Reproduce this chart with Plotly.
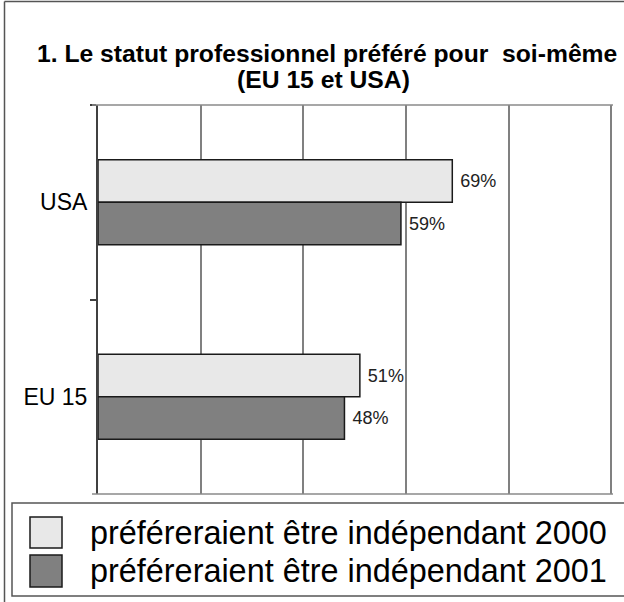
import plotly.graph_objects as go

# ---- data ----
categories = ["USA", "EU 15"]
series_names = ["préféreraient être indépendant 2000", "préféreraient être indépendant 2001"]
values_2000 = [69, 51]
values_2001 = [59, 48]
labels_2000 = ["69%", "51%"]
labels_2001 = ["59%", "48%"]

title_line1 = "1. Le statut professionnel préféré pour  soi-même"
title_line2 = "(EU 15 et USA)"

# ---- styles ----
W, H = 624, 602
L, R, T, B = 98, 11, 105, 108
FONT = "Liberation Sans, Arial, sans-serif"
fills = ["#e8e8e8", "#808080"]
outline = "#1a1a1a"

pw = W - L - R
ph = H - T - B


def px(x):
    return (x - L) / pw


def py(y):
    return 1 - (y - T) / ph


fig = go.Figure()
for name, vals, labs, fc in [
    (series_names[0], values_2000, labels_2000, fills[0]),
    (series_names[1], values_2001, labels_2001, fills[1]),
]:
    fig.add_trace(go.Bar(
        y=categories, x=vals, orientation="h", name=name,
        marker=dict(color=fc, line=dict(color=outline, width=1.5)),
        text=labs, texttemplate=" %{text}", textposition="outside", cliponaxis=False,
        textfont=dict(family=FONT, size=18, color="#222222"),
        showlegend=False,
    ))

shapes = []
# outer border (top and left visible)
shapes.append(dict(type="line", xref="paper", yref="paper",
                   x0=px(4.5), x1=px(700), y0=py(1.5), y1=py(1.5),
                   line=dict(color="#555555", width=1.5)))
shapes.append(dict(type="line", xref="paper", yref="paper",
                   x0=px(4.5), x1=px(4.5), y0=py(1.5), y1=py(700),
                   line=dict(color="#555555", width=1.5)))
# plot frame top and bottom lines
for yy in (0, 1):
    shapes.append(dict(type="line", xref="paper", yref="paper",
                       x0=px(92), x1=1, y0=yy, y1=yy,
                       line=dict(color="#8a8a8a", width=1.5)))
# legend box
shapes.append(dict(type="rect", xref="paper", yref="paper",
                   x0=px(12), x1=px(700), y0=py(503), y1=py(596),
                   line=dict(color="#555555", width=1.5), fillcolor="rgba(0,0,0,0)"))
annotations = []
rows = [(517, 548, 532.5), (555, 587, 571)]
for i, (y0, y1, yc) in enumerate(rows):
    shapes.append(dict(type="rect", xref="paper", yref="paper",
                       x0=px(30), x1=px(62), y0=py(y0), y1=py(y1),
                       line=dict(color=outline, width=1.5), fillcolor=fills[i]))
    annotations.append(dict(xref="paper", yref="paper", x=px(88), y=py(yc),
                            text=series_names[i], showarrow=False,
                            xanchor="left", yanchor="middle",
                            font=dict(family=FONT, size=32.4, color="#000000")))

# title
annotations.append(dict(xref="paper", yref="paper", x=px(327), y=py(53),
                        text="<b>" + title_line1 + "</b>", showarrow=False,
                        xanchor="center", yanchor="middle",
                        font=dict(family=FONT, size=24.7, color="#000000")))
annotations.append(dict(xref="paper", yref="paper", x=px(323), y=py(80),
                        text="<b>" + title_line2 + "</b>", showarrow=False,
                        xanchor="center", yanchor="middle",
                        font=dict(family=FONT, size=24.7, color="#000000")))

fig.update_layout(
    width=W, height=H,
    margin=dict(l=L, r=R, t=T, b=B, autoexpand=False),
    paper_bgcolor="white", plot_bgcolor="white",
    barmode="group", bargap=0.563, bargroupgap=0,
    shapes=shapes, annotations=annotations,
    font=dict(family=FONT, color="#000000"),
)
fig.update_xaxes(
    range=[0, 100.3], dtick=20, tick0=0,
    showgrid=True, gridcolor="#808080", gridwidth=1.5,
    showticklabels=False, ticks="",
    showline=False,
    zeroline=False, fixedrange=True,
)
fig.update_yaxes(
    autorange="reversed", type="category",
    tickson="boundaries", ticks="outside", ticklen=6, tickwidth=1.5, tickcolor="#404040",
    showline=True, linecolor="#404040", linewidth=2,
    showgrid=False, zeroline=False,
    tickfont=dict(family=FONT, size=23, color="#000000"),
    ticklabelstandoff=4,
)

fig.write_html("out.html", config={"displayModeBar": False},
               post_script="document.body.style.margin='0';document.body.style.padding='0';")
